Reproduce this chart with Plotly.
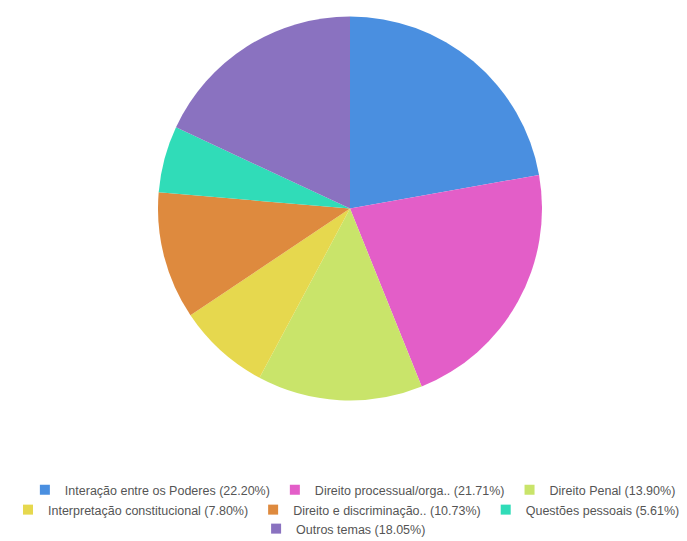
import plotly.graph_objects as go

labels = [
    "Interação entre os Poderes (22.20%)",
    "Direito processual/orga.. (21.71%)",
    "Direito Penal (13.90%)",
    "Interpretação constitucional (7.80%)",
    "Direito e discriminação.. (10.73%)",
    "Questões pessoais (5.61%)",
    "Outros temas (18.05%)",
]
values = [22.20, 21.71, 13.90, 7.80, 10.73, 5.61, 18.05]
colors = ["#4a8fe0", "#e35ec8", "#c9e46a", "#e6d84e", "#de8a3e", "#30dcb8", "#8a72c0"]
legend_rows = ["legend", "legend", "legend", "legend2", "legend2", "legend2", "legend3"]

W, H = 687, 541
# page offset of the plot div (browser body margin)
off = 7.5
cx, cy, r = 349.5 - off, 208 - off, 192

fig = go.Figure()
fig.add_trace(go.Pie(
    labels=labels,
    values=values,
    sort=False,
    direction="clockwise",
    rotation=0,
    textinfo="none",
    showlegend=False,
    marker=dict(colors=colors, line=dict(width=0)),
    domain=dict(x=[(cx - r) / W, (cx + r) / W], y=[1 - (cy + r) / H, 1 - (cy - r) / H]),
))

for lab, col, lg in zip(labels, colors, legend_rows):
    fig.add_trace(go.Scatter(
        x=[None], y=[None], mode="markers", name=lab, legend=lg,
        marker=dict(symbol="square", size=10, color=col),
        hoverinfo="skip",
    ))

leg_font = dict(family="Liberation Sans, Arial, sans-serif", size=12.5, color="#555555")
row_y = [482, 502, 521]
row_x = [0.502, 0.4635, 0.4885]
common = dict(orientation="h", xanchor="center", yanchor="middle",
              font=leg_font, itemwidth=30, bgcolor="rgba(0,0,0,0)")

fig.update_layout(
    width=W, height=H,
    margin=dict(l=0, r=0, t=0, b=0),
    paper_bgcolor="white",
    plot_bgcolor="white",
    xaxis=dict(visible=False),
    yaxis=dict(visible=False),
    font=leg_font,
    legend=dict(x=row_x[0], y=1 - row_y[0] / H, **common),
    legend2=dict(x=row_x[1], y=1 - row_y[1] / H, **common),
    legend3=dict(x=row_x[2], y=1 - row_y[2] / H, **common),
)

fig.write_html("out.html")
